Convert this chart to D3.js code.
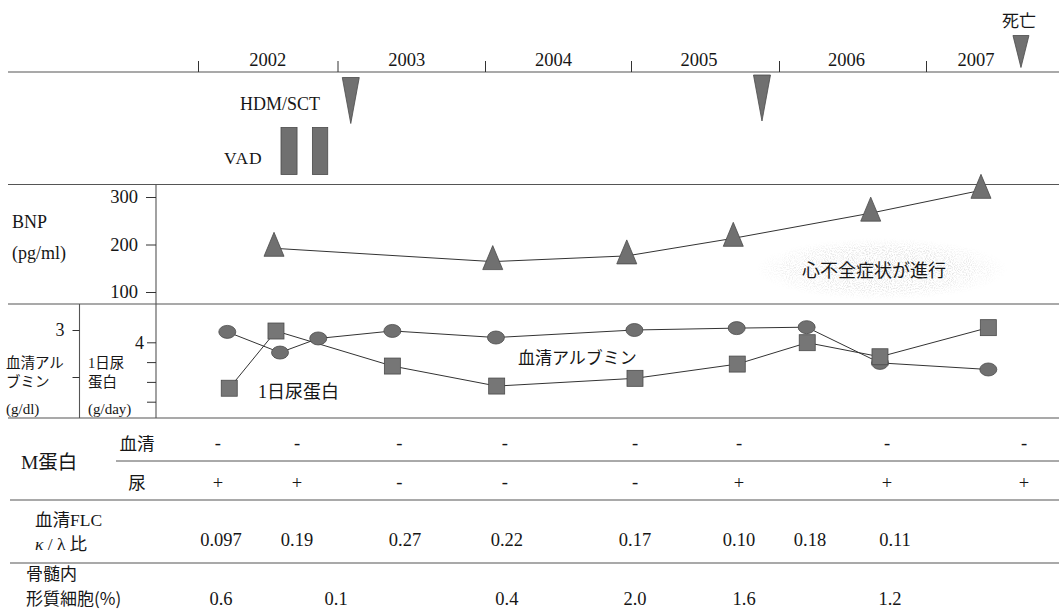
<!DOCTYPE html>
<html>
<head>
<meta charset="utf-8">
<script src="https://cdn.jsdelivr.net/npm/d3@7"></script>
<style>
  html, body { margin: 0; padding: 0; background: #fff; }
  svg { display: block; }
</style>
</head>
<body>
<svg id="chart" width="1059" height="610"></svg>
<script>
// ---- Timeline ----
const years = [2002, 2003, 2004, 2005, 2006, 2007];
const yearLabelDates = [2002.5, 2003.47, 2004.47, 2005.46, 2006.46, 2007.34];

// ---- Treatment events (decimal years) ----
const hdmDates = [2003.09, 2005.885];
const vadStarts = [2002.595, 2002.82];
const vadEnds = [2002.71, 2002.93];
const deathDate = 2007.646;

// ---- BNP (pg/ml) ----
const bnpDates = [2002.545, 2004.053, 2004.971, 2005.691, 2006.624, 2007.374];
const bnpValues = [192, 164, 176, 213, 266, 314];
const bnpTicks = [100, 200, 300];

// ---- Serum albumin (g/dl) ----
const albDates = [2002.21, 2002.588, 2002.862, 2003.372, 2004.075, 2005.023, 2005.714, 2006.188, 2006.687, 2007.424];
const albValues = [2.98, 2.76, 2.91, 2.99, 2.92, 3.0, 3.02, 3.03, 2.65, 2.58];
const albTicks = [2.5, 3];

// ---- Urine protein (g/day) ----
const upDates = [2002.224, 2002.559, 2003.372, 2004.08, 2005.027, 2005.718, 2006.192, 2006.687, 2007.424];
const upValues = [1.68, 4.57, 2.80, 1.79, 2.18, 2.90, 3.98, 3.27, 4.74];
const upTicks = [1, 2, 3, 4];

// ---- M protein ----
const mDates = [2002.143, 2002.71, 2003.42, 2004.136, 2005.027, 2005.73, 2006.735, 2007.667];
const mSerum = ["-", "-", "-", "-", "-", "-", "-", "-"];
const mUrine = ["+", "+", "-", "-", "-", "+", "+", "+"];

// ---- Serum FLC kappa/lambda ratio ----
const flcDates = [2002.165, 2002.71, 2003.458, 2004.15, 2005.027, 2005.73, 2006.211, 2006.789];
const flcValues = ["0.097", "0.19", "0.27", "0.22", "0.17", "0.10", "0.18", "0.11"];

// ---- Bone marrow plasma cells (%) ----
const bmDates = [2002.165, 2002.99, 2004.15, 2005.027, 2005.764, 2006.755];
const bmValues = ["0.6", "0.1", "0.4", "2.0", "1.6", "1.2"];

const SERIF = "'Liberation Serif', 'Times New Roman', 'Noto Sans CJK JP', serif";
const GOTHIC = "'Noto Sans CJK JP', 'Noto Sans', sans-serif";
const INK = "#161616";
const RULE = "#555";
const MARK = "#707070";
const MARK_STROKE = "#4a4a4a";

const svg = d3.select("#chart");

// Time axis: slightly uneven year widths as laid out on the page
const x = d3.scaleLinear().domain(years).range([198, 337.5, 485, 631, 779, 926]);

const yBNP = d3.scaleLinear().domain([100, 300]).range([292, 197]);
const yAlb = d3.scaleLinear().domain([2.5, 3]).range([377, 330]);
const yUP = d3.scaleLinear().domain([1, 4]).range([401.7, 342.3]);

// Soft speckled haze behind the heart-failure note
const defs = svg.append("defs");
const grad = defs.append("radialGradient").attr("id", "haze");
grad.append("stop").attr("offset", "0%").attr("stop-color", "#a0a0a0").attr("stop-opacity", 0.6);
grad.append("stop").attr("offset", "70%").attr("stop-color", "#b4b4b4").attr("stop-opacity", 0.3);
grad.append("stop").attr("offset", "100%").attr("stop-color", "#c8c8c8").attr("stop-opacity", 0);
const f = defs.append("filter").attr("id", "speckle").attr("x", 0).attr("y", 0).attr("width", 1).attr("height", 1);
f.append("feTurbulence").attr("type", "fractalNoise").attr("baseFrequency", 0.95).attr("numOctaves", 1).attr("seed", 3).attr("result", "n");
f.append("feColorMatrix").attr("in", "n").attr("type", "matrix")
  .attr("values", "0 0 0 0 0.5  0 0 0 0 0.5  0 0 0 0 0.5  0 0 0 -4 2.2").attr("result", "dots");
f.append("feComposite").attr("in", "dots").attr("in2", "SourceGraphic").attr("operator", "in");

// ---- Horizontal rules ----
const hRule = (y, x1, x2, w = 1.2) =>
  svg.append("line").attr("x1", x1).attr("x2", x2).attr("y1", y).attr("y2", y)
    .attr("stroke", RULE).attr("stroke-width", w);
hRule(72, 8, 1059, 1.1);
hRule(184.5, 8, 1059);
hRule(304, 8, 1059);
hRule(418, 8, 1059);
hRule(461, 116, 1059, 1);
hRule(500, 10, 1059);
hRule(563, 10, 1059);

// Vertical axis lines
svg.append("line").attr("x1", 156).attr("x2", 156).attr("y1", 184.5).attr("y2", 418)
  .attr("stroke", RULE).attr("stroke-width", 1.1);
svg.append("line").attr("x1", 79.5).attr("x2", 79.5).attr("y1", 304).attr("y2", 418)
  .attr("stroke", RULE).attr("stroke-width", 1.1);

// ---- Year ticks and labels ----
const tAxis = svg.append("g").attr("transform", "translate(0,72)")
  .call(d3.axisTop(x).tickValues(years).tickSize(11).tickFormat(""));
tAxis.select(".domain").remove();
tAxis.selectAll(".tick line").attr("stroke", "#333").attr("stroke-width", 1);

svg.append("g").selectAll("text").data(years).join("text")
  .attr("x", (d, i) => x(yearLabelDates[i])).attr("y", 66)
  .attr("text-anchor", "middle").attr("font-family", SERIF).attr("font-size", 18.5).attr("fill", INK)
  .text(d => d);

// ---- Event markers ----
const downTri = (w, h) => `M${-w / 2},0L${w / 2},0L0,${h}Z`;
svg.append("g").selectAll("path").data(hdmDates).join("path")
  .attr("transform", (d, i) => `translate(${x(d)},${i === 0 ? 77.5 : 75})`)
  .attr("d", downTri(17, 46)).attr("fill", MARK).attr("stroke", MARK_STROKE).attr("stroke-width", 0.8);
svg.append("path").attr("transform", `translate(${x(deathDate)},35.5)`)
  .attr("d", downTri(16, 32)).attr("fill", MARK).attr("stroke", MARK_STROKE).attr("stroke-width", 0.8);
svg.append("text").attr("x", x(deathDate) - 2).attr("y", 26.5).attr("text-anchor", "middle")
  .attr("font-family", GOTHIC).attr("font-size", 17).attr("fill", INK).text("死亡");

svg.append("text").attr("x", 240).attr("y", 110).attr("font-family", SERIF).attr("font-size", 18)
  .attr("fill", INK).text("HDM/SCT");
svg.append("text").attr("x", 224).attr("y", 164).attr("font-family", SERIF).attr("font-size", 17.5)
  .attr("letter-spacing", 1).attr("fill", INK).text("VAD");
svg.append("g").selectAll("rect").data(vadStarts).join("rect")
  .attr("x", d => x(d)).attr("width", (d, i) => x(vadEnds[i]) - x(d))
  .attr("y", 127.5).attr("height", 47)
  .attr("fill", MARK).attr("stroke", MARK_STROKE).attr("stroke-width", 0.8);

// ---- BNP panel ----
const bnpAxis = svg.append("g").attr("transform", "translate(156,0)")
  .call(d3.axisLeft(yBNP).tickValues(bnpTicks).tickSize(10).tickPadding(8));
bnpAxis.select(".domain").remove();
bnpAxis.selectAll(".tick line").attr("stroke", "#333");
bnpAxis.selectAll(".tick text").attr("font-family", SERIF).attr("font-size", 18.5).attr("fill", INK);

svg.append("text").attr("x", 12).attr("y", 228).attr("font-family", SERIF).attr("font-size", 18)
  .attr("fill", INK).text("BNP");
svg.append("text").attr("x", 12).attr("y", 259).attr("font-family", SERIF).attr("font-size", 18)
  .attr("fill", INK).text("(pg/ml)");

svg.append("ellipse").attr("cx", 882).attr("cy", 269).attr("rx", 125).attr("ry", 31)
  .attr("fill", "url(#haze)").attr("filter", "url(#speckle)");
svg.append("text").attr("x", 802).attr("y", 277).attr("font-family", GOTHIC).attr("font-size", 18)
  .attr("fill", INK).text("心不全症状が進行");

const bnpData = bnpDates.map((t, i) => ({ t, v: bnpValues[i] }));
svg.append("path").datum(bnpData)
  .attr("d", d3.line().x(d => x(d.t)).y(d => yBNP(d.v)))
  .attr("fill", "none").attr("stroke", "#333").attr("stroke-width", 1);
svg.append("g").selectAll("path").data(bnpData).join("path")
  .attr("transform", d => `translate(${x(d.t)},${yBNP(d.v)})`)
  .attr("d", "M0,-16L10,8L-10,8Z")
  .attr("fill", MARK).attr("stroke", MARK_STROKE).attr("stroke-width", 0.8);

// ---- Albumin / urine protein panel ----
const albAxis = svg.append("g").attr("transform", "translate(79.5,0)")
  .call(d3.axisLeft(yAlb).tickValues(albTicks).tickSize(7).tickPadding(8)
    .tickFormat(d => d === 3 ? "3" : ""));
albAxis.select(".domain").remove();
albAxis.selectAll(".tick line").attr("stroke", "#333");
albAxis.selectAll(".tick text").attr("font-family", SERIF).attr("font-size", 18).attr("fill", INK);

const upAxis = svg.append("g").attr("transform", "translate(156,0)")
  .call(d3.axisLeft(yUP).tickValues(upTicks).tickSize(9).tickPadding(3)
    .tickFormat(d => d === 4 ? "4" : ""));
upAxis.select(".domain").remove();
upAxis.selectAll(".tick line").attr("stroke", "#333");
upAxis.selectAll(".tick text").attr("font-family", SERIF).attr("font-size", 18).attr("fill", INK);

const leftLabel = (xx, y, txt, fam, size = 14.5) =>
  svg.append("text").attr("x", xx).attr("y", y).attr("font-family", fam).attr("font-size", size)
    .attr("fill", INK).text(txt);
leftLabel(6, 368, "血清アル", GOTHIC);
leftLabel(6, 387, "ブミン", GOTHIC);
leftLabel(6, 414, "(g/dl)", SERIF, 15);
leftLabel(88, 368, "1日尿", SERIF);
leftLabel(88, 387, "蛋白", GOTHIC);
leftLabel(88, 414, "(g/day)", SERIF, 15);

const albData = albDates.map((t, i) => ({ t, v: albValues[i] }));
const upData = upDates.map((t, i) => ({ t, v: upValues[i] }));

svg.append("path").datum(albData)
  .attr("d", d3.line().x(d => x(d.t)).y(d => yAlb(d.v)))
  .attr("fill", "none").attr("stroke", "#333").attr("stroke-width", 1);
svg.append("path").datum(upData)
  .attr("d", d3.line().x(d => x(d.t)).y(d => yUP(d.v)))
  .attr("fill", "none").attr("stroke", "#333").attr("stroke-width", 1);

svg.append("g").selectAll("ellipse").data(albData).join("ellipse")
  .attr("cx", d => x(d.t)).attr("cy", d => yAlb(d.v)).attr("rx", 8.5).attr("ry", 6.5)
  .attr("fill", MARK).attr("stroke", MARK_STROKE).attr("stroke-width", 0.8);
svg.append("g").selectAll("rect").data(upData).join("rect")
  .attr("x", d => x(d.t) - 8).attr("y", d => yUP(d.v) - 8).attr("width", 16).attr("height", 16)
  .attr("fill", "#767676").attr("stroke", MARK_STROKE).attr("stroke-width", 0.8);

svg.append("text").attr("x", 518).attr("y", 363.5).attr("font-family", GOTHIC).attr("font-size", 17)
  .attr("fill", INK).text("血清アルブミン");
svg.append("text").attr("x", 258).attr("y", 398).attr("font-family", SERIF).attr("font-size", 18)
  .attr("fill", INK).text("1日尿蛋白");

// ---- Table rows ----
svg.append("text").attr("x", 21).attr("y", 469).attr("font-family", SERIF).attr("font-size", 19.5)
  .attr("fill", INK).text("M蛋白");
svg.append("text").attr("x", 137).attr("y", 450).attr("text-anchor", "middle").attr("font-family", GOTHIC)
  .attr("font-size", 17.5).attr("fill", INK).text("血清");
svg.append("text").attr("x", 137).attr("y", 489).attr("text-anchor", "middle").attr("font-family", GOTHIC)
  .attr("font-size", 17.5).attr("fill", INK).text("尿");

const rowText = (dates, vals, yFor) =>
  svg.append("g").selectAll("text").data(vals).join("text")
    .attr("x", (d, i) => x(dates[i])).attr("y", d => yFor(d))
    .attr("text-anchor", "middle").attr("font-family", SERIF).attr("font-size", 18.5).attr("fill", INK)
    .text(d => d);
rowText(mDates, mSerum, () => 449);
rowText(mDates, mUrine, d => d === "+" ? 489 : 488);
rowText(flcDates, flcValues, () => 546);
rowText(bmDates, bmValues, () => 605);

svg.append("text").attr("x", 35).attr("y", 526).attr("font-family", SERIF).attr("font-size", 17.5)
  .attr("fill", INK).text("血清FLC");
const kl = svg.append("text").attr("x", 35).attr("y", 550).attr("font-family", SERIF).attr("font-size", 17.5)
  .attr("fill", INK);
kl.append("tspan").attr("font-style", "italic").text("κ");
kl.append("tspan").text(" / ");
kl.append("tspan").text("λ");
kl.append("tspan").attr("font-family", GOTHIC).text(" 比");

svg.append("text").attr("x", 26).attr("y", 580).attr("font-family", GOTHIC).attr("font-size", 17)
  .attr("fill", INK).text("骨髄内");
svg.append("text").attr("x", 26).attr("y", 604.5).attr("font-family", GOTHIC).attr("font-size", 17)
  .attr("fill", INK).text("形質細胞(%)");
</script>
</body>
</html>
